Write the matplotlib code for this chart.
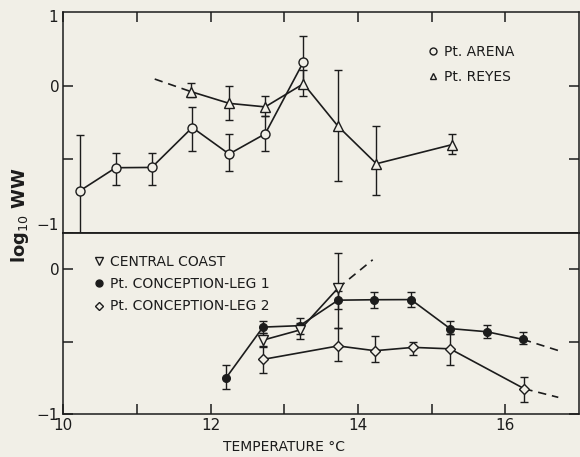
import numpy as np
from matplotlib import pyplot as plt
from matplotlib.lines import Line2D

# ---- data (temperature degC, log10 WW, lower / upper error) ----
arena_t = [10.22, 10.71, 11.20, 11.75, 12.25, 12.74, 13.26]
arena_w = [-0.715, -0.557, -0.555, -0.284, -0.464, -0.327, 0.162]
arena_lo = [0.42, 0.12, 0.12, 0.16, 0.115, 0.115, 0.175]
arena_hi = [0.38, 0.10, 0.10, 0.14, 0.135, 0.12, 0.175]

reyes_t = [11.73, 12.25, 12.74, 13.26, 13.73, 14.25, 15.28]
reyes_w = [-0.04, -0.12, -0.144, 0.013, -0.276, -0.53, -0.40]
reyes_lo = [0.04, 0.115, 0.06, 0.08, 0.37, 0.215, 0.066]
reyes_hi = [0.06, 0.12, 0.075, 0.09, 0.38, 0.255, 0.07]
reyes_ext_t = [11.24, 11.73]
reyes_ext_w = [0.045, -0.04]

coast_t = [12.71, 13.21, 13.73]
coast_w = [-0.49, -0.42, -0.13]
coast_lo = [0.05, 0.065, 0.275]
coast_hi = [0.05, 0.045, 0.24]
coast_ext_t = [13.73, 14.20]
coast_ext_w = [-0.13, 0.065]

leg1_t = [12.21, 12.71, 13.21, 13.73, 14.22, 14.72, 15.25, 15.75, 16.24]
leg1_w = [-0.75, -0.40, -0.39, -0.214, -0.211, -0.21, -0.41, -0.432, -0.485]
leg1_lo = [0.075, 0.04, 0.055, 0.06, 0.06, 0.05, 0.04, 0.045, 0.03]
leg1_hi = [0.09, 0.045, 0.055, 0.06, 0.056, 0.05, 0.05, 0.045, 0.05]
leg1_ext_t = [16.24, 16.79]
leg1_ext_w = [-0.485, -0.573]

leg2_t = [12.71, 13.73, 14.23, 14.75, 15.25, 16.26]
leg2_w = [-0.623, -0.53, -0.563, -0.54, -0.55, -0.826]
leg2_lo = [0.095, 0.105, 0.08, 0.05, 0.11, 0.09]
leg2_hi = [0.095, 0.125, 0.10, 0.04, 0.10, 0.08]
leg2_ext_t = [16.26, 16.72]
leg2_ext_w = [-0.826, -0.885]

BG = '#f1efe7'
INK = '#1c1c1c'
plt.rcParams['font.family'] = ['DejaVu Sans']

fig = plt.figure(figsize=(5.8, 4.57), dpi=100, facecolor=BG)
ax1 = fig.add_axes([0.1093, 0.4902, 0.8888, 0.4835], facecolor=BG)
ax2 = fig.add_axes([0.1093, 0.0941, 0.8888, 0.3961], facecolor=BG)


def series(ax, t, w, lo, hi, marker, ms, fill):
    ax.errorbar(t, w, yerr=[lo, hi], color=INK, lw=1.2, elinewidth=1.0,
                capsize=3.2, capthick=1.0, marker=marker, ms=ms,
                mfc=fill, mec=INK, mew=1.0, zorder=3)


def dashed(ax, t, w):
    ax.plot(t, w, color=INK, lw=1.2, ls=(0, (5, 3.5)), zorder=2)


series(ax1, arena_t, arena_w, arena_lo, arena_hi, 'o', 6.5, BG)
series(ax1, reyes_t, reyes_w, reyes_lo, reyes_hi, '^', 6.5, BG)
dashed(ax1, reyes_ext_t, reyes_ext_w)

series(ax2, leg1_t, leg1_w, leg1_lo, leg1_hi, 'o', 5.5, INK)
series(ax2, coast_t, coast_w, coast_lo, coast_hi, 'v', 7, BG)
series(ax2, leg2_t, leg2_w, leg2_lo, leg2_hi, 'D', 5.5, BG)
dashed(ax2, coast_ext_t, coast_ext_w)
dashed(ax2, leg1_ext_t, leg1_ext_w)
dashed(ax2, leg2_ext_t, leg2_ext_w)

for ax in (ax1, ax2):
    ax.set_xlim(10, 17)
    ax.set_xticks(range(10, 17))
    ax.set_yticks([0, -0.5, -1])
    ax.set_yticklabels(['0', '', '\u22121'])
    for s in ax.spines.values():
        s.set_color(INK)
        s.set_linewidth(1.1)
    ax.tick_params(which='both', direction='in', color=INK, width=1.1,
                   length=7, labelsize=11, labelcolor=INK, pad=3)

ax1.set_ylim(-1, 0.5)
ax1.tick_params(axis='y', left=True, right=True, labelleft=True)
ax1.tick_params(axis='x', top=True, bottom=False, labelbottom=False)
for tl in ax1.get_yticklabels():
    if tl.get_text() == '\u22121':
        tl.set_va('bottom')

ax2.set_ylim(-1, 0.25)
ax2.tick_params(axis='y', left=True, right=True)
ax2.tick_params(axis='x', top=False, bottom=True)
ax2.set_xticklabels(['10', '', '12', '', '14', '', '16'])
ax2.spines['top'].set_linewidth(1.3)

leg_kw = dict(frameon=False, fontsize=10, handlelength=0.8, handletextpad=0.4,
              borderpad=0, borderaxespad=0, labelcolor=INK)
h1 = [Line2D([], [], ls='none', marker='o', ms=5, mfc=BG, mec=INK, mew=1.0),
      Line2D([], [], ls='none', marker='^', ms=5, mfc=BG, mec=INK, mew=1.0)]
ax1.legend(h1, ['Pt. ARENA', 'Pt. REYES'], loc='upper left',
           bbox_to_anchor=(0.706, 0.85), labelspacing=0.75, **leg_kw)
h2 = [Line2D([], [], ls='none', marker='v', ms=5.5, mfc=BG, mec=INK, mew=1.0),
      Line2D([], [], ls='none', marker='o', ms=5, mfc=INK, mec=INK, mew=1.0),
      Line2D([], [], ls='none', marker='D', ms=4.5, mfc=BG, mec=INK, mew=1.0)]
ax2.legend(h2, ['CENTRAL COAST', 'Pt. CONCEPTION-LEG 1', 'Pt. CONCEPTION-LEG 2'],
           loc='upper left', bbox_to_anchor=(0.059, 0.88), labelspacing=0.6, **leg_kw)

# shared axis labels and the stray "1" at the upper left corner
fig.text(0.092, 0.962, '1', fontsize=11, color=INK, ha='center', va='center')
fig.text(0.015, 0.53, 'log$_{10}$ WW', rotation=90, fontsize=13, fontweight='bold',
         color=INK, ha='left', va='center')
fig.text(0.49, 0.022, 'TEMPERATURE \u00b0C', fontsize=10, color=INK,
         ha='center', va='center')

fig.savefig('out.png', dpi=100, facecolor=BG)
